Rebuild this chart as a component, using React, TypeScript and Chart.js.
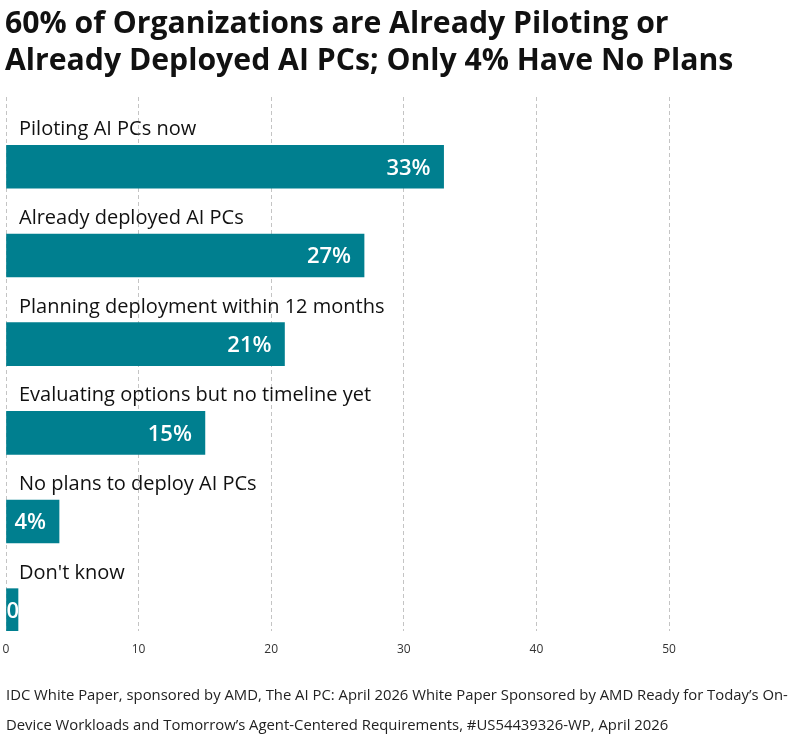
import React, { useEffect, useRef } from "react";
import { Chart, registerables } from "chart.js";

Chart.register(...registerables);

const TITLE_LINES = [
  "60% of Organizations are Already Piloting or",
  "Already Deployed AI PCs; Only 4% Have No Plans",
];
const CATEGORIES = [
  "Piloting AI PCs now",
  "Already deployed AI PCs",
  "Planning deployment within 12 months",
  "Evaluating options but no timeline yet",
  "No plans to deploy AI PCs",
  "Don't know",
];
const VALUES = [33, 27, 21, 15, 4, 0];
const X_TICK_STEP = 10;
const X_MAX = 59.8;
const FOOTER_LINES = [
  "IDC White Paper, sponsored by AMD, The AI PC: April 2026 White Paper Sponsored by AMD Ready for Today\u2019s On-",
  "Device Workloads and Tomorrow\u2019s Agent-Centered Requirements, #US54439326-WP, April 2026",
];

const BAR_COLOR = "#007f8f";

const labelPlugin = {
  id: "barLabels",
  afterDatasetsDraw(chart: any) {
    const ctx = chart.ctx;
    const meta = chart.getDatasetMeta(0);
    const area = chart.chartArea;
    meta.data.forEach((bar: any, i: number) => {
      const props = bar.getProps(["x", "y", "base", "height"], true);
      const top = props.y - props.height / 2;
      ctx.save();
      ctx.font = "400 20px 'Open Sans'";
      ctx.fillStyle = "#111";
      ctx.textAlign = "left";
      ctx.textBaseline = "alphabetic";
      ctx.fillText(CATEGORIES[i], area.left + 13, top - 10);
      ctx.restore();
      const txt = `${VALUES[i]}%`;
      ctx.save();
      ctx.font = "600 22px 'Open Sans'";
      const w = ctx.measureText(txt).width;
      const left = Math.min(props.base, props.x);
      const right = Math.max(props.base, props.x);
      const tx = Math.max(left, right - 13 - w);
      ctx.beginPath();
      ctx.rect(left, top, right - left, props.height);
      ctx.clip();
      ctx.fillStyle = "#ffffff";
      ctx.textAlign = "left";
      ctx.textBaseline = "alphabetic";
      ctx.fillText(txt, tx, props.y + 8);
      ctx.restore();
    });
  },
};

function BarChart() {
  const ref = useRef<HTMLCanvasElement | null>(null);
  useEffect(() => {
    if (!ref.current) return;
    const chart = new Chart(ref.current, {
      type: "bar",
      data: {
        datasets: [
          {
            data: VALUES.map((v, i) => ({ x: v, y: i })),
            backgroundColor: BAR_COLOR,
            borderWidth: 0,
            barThickness: 43,
            minBarLength: 12,
          },
        ],
      },
      options: {
        indexAxis: "y",
        responsive: false,
        maintainAspectRatio: false,
        animation: false,
        layout: { padding: { left: 6, right: 0, top: 97, bottom: 21 } },
        plugins: {
          legend: { display: false },
          tooltip: { enabled: false },
        },
        scales: {
          x: {
            type: "linear",
            position: "bottom",
            min: 0,
            max: X_MAX,
            ticks: {
              stepSize: X_TICK_STEP,
              includeBounds: false,
              color: "#333",
              font: { family: "'Open Sans'", size: 12 },
              padding: 2,
              maxRotation: 0,
            },
            grid: {
              color: "#c4c4c4",
              lineWidth: 1,
              drawTicks: true,
              tickLength: 9.5,
              tickColor: "rgba(0,0,0,0)",
            },
            border: { display: false, dash: [4, 3] },
          },
          y: {
            type: "linear",
            reverse: true,
            display: false,
            offset: false,
            min: -0.787,
            max: 5.236,
          },
        },
      } as any,
      plugins: [labelPlugin],
    });
    return () => chart.destroy();
  }, []);
  return (
    <canvas
      ref={ref}
      width={799}
      height={680}
      style={{ position: "absolute", left: 0, top: 0, width: 799, height: 680 }}
    />
  );
}

export default function App() {
  return (
    <div
      style={{
        position: "absolute",
        left: 0,
        top: 0,
        width: 799,
        height: 739,
        background: "#fff",
        overflow: "hidden",
        fontFamily: "'Open Sans', sans-serif",
      }}
    >
      <BarChart />
      <div
        style={{
          position: "absolute",
          left: 5,
          top: 3,
          fontSize: 30.2,
          lineHeight: "37px",
          fontWeight: 700,
          color: "#111",
          whiteSpace: "nowrap",
        }}
      >
        {TITLE_LINES.map((l, i) => (
          <div key={i}>{l}</div>
        ))}
      </div>
      <div
        style={{
          position: "absolute",
          left: 6,
          top: 679,
          fontSize: 14.85,
          lineHeight: "30px",
          color: "#222",
          whiteSpace: "nowrap",
        }}
      >
        {FOOTER_LINES.map((l, i) => (
          <div key={i}>{l}</div>
        ))}
      </div>
    </div>
  );
}
